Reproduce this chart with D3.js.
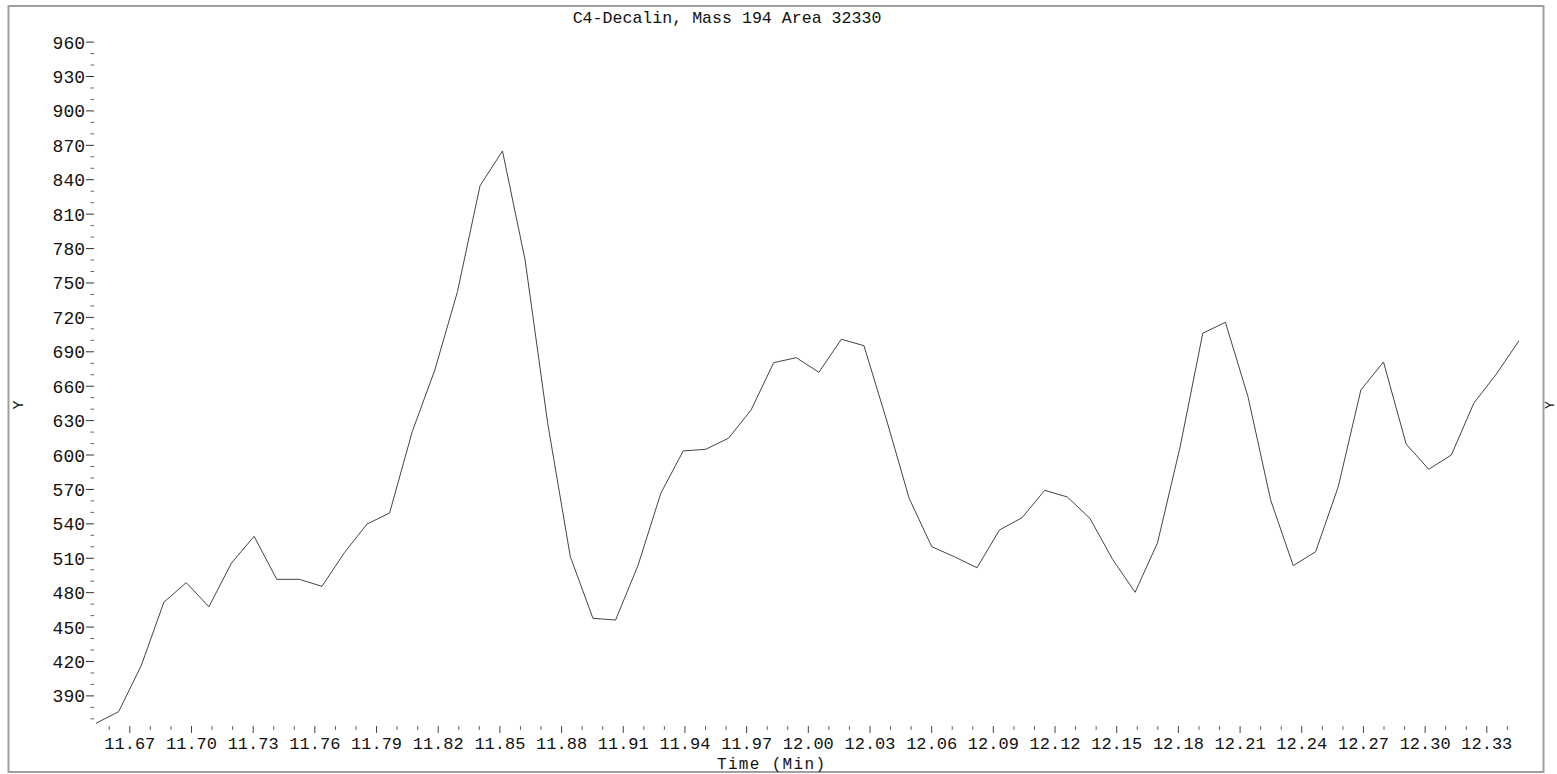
<!DOCTYPE html>
<html>
<head>
<meta charset="utf-8">
<script src="https://cdn.jsdelivr.net/npm/d3@7"></script>
<style>
  html, body { margin: 0; padding: 0; background: #fff; }
  svg { display: block; }
  text { font-family: "Liberation Mono", "DejaVu Sans Mono", monospace; fill: #111; }
</style>
</head>
<body>
<script>
// ---- data ----
const title = "C4-Decalin, Mass 194 Area 32330";
const xAxisTitle = "Time (Min)";
const yAxisTitle = "Y";

const times = [
  11.6538, 11.6648, 11.6758, 11.6868, 11.6977, 11.7087, 11.7197, 11.7307,
  11.7417, 11.7527, 11.7637, 11.7746, 11.7856, 11.7966, 11.8076, 11.8186,
  11.8296, 11.8406, 11.8515, 11.8625, 11.8735, 11.8845, 11.8955, 11.9065,
  11.9175, 11.9285, 11.9394, 11.9504, 11.9614, 11.9724, 11.9834, 11.9944,
  12.0054, 12.0163, 12.0273, 12.0383, 12.0493, 12.0603, 12.0713, 12.0823,
  12.0932, 12.1042, 12.1152, 12.1262, 12.1372, 12.1482, 12.1592, 12.1701,
  12.1811, 12.1921, 12.2031, 12.2141, 12.2251, 12.2361, 12.2470, 12.2580,
  12.2690, 12.2800, 12.2910, 12.3020, 12.3130, 12.3239, 12.3349, 12.3459
];
const intensity = [
  365.7, 375.8, 415.9, 471.2, 488.3, 467.3, 505.4, 528.7,
  491.2, 491.2, 485.1, 514.4, 539.4, 549.0, 619.9, 673.7,
  742.0, 834.4, 864.6, 769.6, 627.2, 510.9, 457.2, 455.7,
  503.7, 566.2, 603.1, 604.6, 614.2, 638.8, 680.1, 684.4,
  671.7, 700.5, 694.9, 630.1, 561.8, 519.6, 510.9, 501.3,
  534.2, 544.9, 568.8, 563.0, 544.4, 508.7, 479.9, 523.1,
  606.8, 705.7, 715.3, 650.4, 560.4, 503.1, 515.3, 572.0,
  656.3, 680.7, 609.2, 587.1, 599.6, 644.7, 670.2, 699.2
];
const xMajorTicks = [11.67, 11.70, 11.73, 11.76, 11.79, 11.82, 11.85, 11.88, 11.91, 11.94, 11.97,
  12.00, 12.03, 12.06, 12.09, 12.12, 12.15, 12.18, 12.21, 12.24, 12.27, 12.30, 12.33];
const xMinorTicks = [11.66, 11.68, 11.69, 11.71, 11.72, 11.74, 11.75, 11.77, 11.78, 11.80, 11.81,
  11.83, 11.84, 11.86, 11.87, 11.89, 11.90, 11.92, 11.93, 11.95, 11.96, 11.98, 11.99,
  12.01, 12.02, 12.04, 12.05, 12.07, 12.08, 12.10, 12.11, 12.13, 12.14, 12.16, 12.17,
  12.19, 12.20, 12.22, 12.23, 12.25, 12.26, 12.28, 12.29, 12.31, 12.32, 12.34];
const yMajorTicks = [390, 420, 450, 480, 510, 540, 570, 600, 630, 660, 690, 720, 750, 780, 810, 840, 870, 900, 930, 960];
const yMinorTicks = [370, 380, 400, 410, 430, 440, 460, 470, 490, 500, 520, 530, 550, 560, 580, 590,
  610, 620, 640, 650, 670, 680, 700, 710, 730, 740, 760, 770, 790, 800, 820, 830, 850, 860,
  880, 890, 910, 920, 940, 950];

// ---- layout ----
const W = 1557, H = 774;
const svg = d3.select("body").append("svg").attr("width", W).attr("height", H);

const x = d3.scaleLinear().domain([11.6538, 12.3459]).range([96, 1519]);
const y = d3.scaleLinear().domain([390, 960]).range([695.4, 41.6]);

// frame
svg.append("rect")
  .attr("x", 8.5).attr("y", 6).attr("width", 1535).attr("height", 766)
  .attr("fill", "none").attr("stroke", "#a0a0a0").attr("stroke-width", 2);

// title
svg.append("text").attr("x", 727).attr("y", 23).attr("text-anchor", "middle")
  .style("font-size", "16.6px").text(title);

// y axis (major with labels)
const yAxisMajor = d3.axisLeft(y).tickValues(yMajorTicks).tickSize(8).tickPadding(1)
  .tickFormat(d3.format("d"));
const gY = svg.append("g").attr("transform", "translate(94,0)").call(yAxisMajor);
gY.select(".domain").remove();
gY.selectAll("line").attr("stroke", "#333");
gY.selectAll("text").style("font-size", "18px").attr("dy", "0.36em");

const yAxisMinor = d3.axisLeft(y).tickValues(yMinorTicks).tickSize(3.5).tickFormat("");
const gYm = svg.append("g").attr("transform", "translate(94,0)").call(yAxisMinor);
gYm.select(".domain").remove();
gYm.selectAll("line").attr("stroke", "#666");

// x axis
const xAxisMajor = d3.axisBottom(x).tickValues(xMajorTicks).tickSize(7).tickPadding(4)
  .tickFormat(d3.format(".2f"));
const gX = svg.append("g").attr("transform", "translate(0,726)").call(xAxisMajor);
gX.select(".domain").remove();
gX.selectAll("line").attr("stroke", "#444");
gX.selectAll("text").style("font-size", "17px").attr("dy", "0.7em");

const xAxisMinor = d3.axisBottom(x).tickValues(xMinorTicks).tickSize(4).tickFormat("");
const gXm = svg.append("g").attr("transform", "translate(0,726)").call(xAxisMinor);
gXm.select(".domain").remove();
gXm.selectAll("line").attr("stroke", "#666");

// axis titles
svg.append("text").attr("x", 771).attr("y", 768.5).attr("text-anchor", "middle")
  .style("font-size", "16px").attr("textLength", 108).attr("lengthAdjust", "spacing")
  .text(xAxisTitle);
svg.append("text").attr("transform", "translate(23,405) rotate(-90)").attr("text-anchor", "middle")
  .style("font-size", "15px").text(yAxisTitle);
svg.append("text").attr("transform", "translate(1554,405) rotate(-90)").attr("text-anchor", "middle")
  .style("font-size", "13px").text(yAxisTitle);

// line
const line = d3.line().x((d, i) => x(times[i])).y(d => y(d));
svg.append("path").datum(intensity)
  .attr("d", line).attr("fill", "none").attr("stroke", "#444").attr("stroke-width", 1);
</script>
</body>
</html>
